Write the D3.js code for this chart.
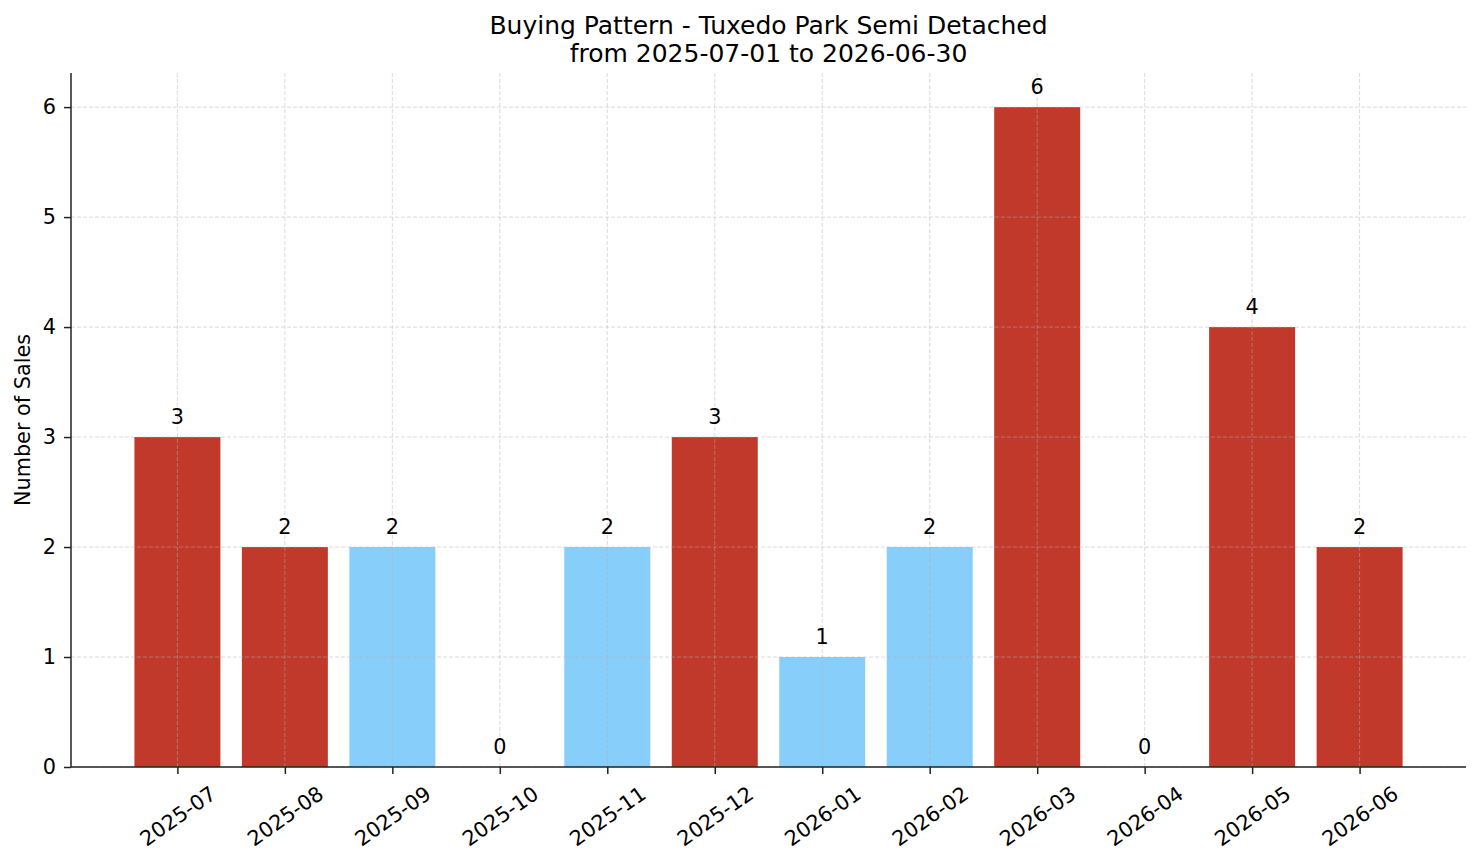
<!DOCTYPE html>
<html>
<head>
<meta charset="utf-8">
<script src="https://cdn.jsdelivr.net/npm/d3@7"></script>
<style>
  body { margin: 0; background: #fff; }
  text { font-family: "DejaVu Sans", sans-serif; fill: #000; }
</style>
</head>
<body>
<svg id="chart" width="1481" height="863"></svg>
<script>
// data
var months = ["2025-07", "2025-08", "2025-09", "2025-10", "2025-11", "2025-12",
  "2026-01", "2026-02", "2026-03", "2026-04", "2026-05", "2026-06"];
var sales = [3, 2, 2, 0, 2, 3, 1, 2, 6, 0, 4, 2];
var highlight = [1, 1, 0, 0, 0, 1, 0, 0, 1, 0, 1, 1]; // 1 = red, 0 = light blue
var yTicks = [0, 1, 2, 3, 4, 5, 6];

var svg = d3.select("#chart");

var margin = { top: 73, right: 15, bottom: 96, left: 71 },
  width = 1481 - margin.left - margin.right,
  height = 863 - margin.top - margin.bottom;

var xScale = d3.scaleLinear().domain([-0.99, 11.99]).range([0, width]);
var yScale = d3.scaleLinear().domain([0, 6.31]).range([height, 0]);
var barW = xScale(0.8) - xScale(0);

var g = svg.append("g")
  .attr("transform", "translate(" + margin.left + "," + margin.top + ")");

// bars
g.selectAll(".bar")
  .data(sales)
  .enter()
  .append("rect")
  .attr("class", "bar")
  .attr("x", function (d, i) { return xScale(i) - barW / 2; })
  .attr("y", function (d) { return yScale(d); })
  .attr("width", barW)
  .attr("height", function (d) { return height - yScale(d); })
  .attr("fill", function (d, i) { return highlight[i] ? "#c0392b" : "#87cefa"; });

// grid (drawn on top, like the reference)
g.selectAll(".hgrid")
  .data(yTicks)
  .enter()
  .append("line")
  .attr("x1", 0)
  .attr("x2", width)
  .attr("y1", function (d) { return yScale(d); })
  .attr("y2", function (d) { return yScale(d); })
  .attr("stroke", "#b0b0b0")
  .attr("stroke-opacity", 0.6)
  .attr("stroke-dasharray", "4,2")
  .attr("stroke-width", 0.8);

g.selectAll(".vgrid")
  .data(months)
  .enter()
  .append("line")
  .attr("x1", function (d, i) { return xScale(i); })
  .attr("x2", function (d, i) { return xScale(i); })
  .attr("y1", 0)
  .attr("y2", height)
  .attr("stroke", "#b0b0b0")
  .attr("stroke-opacity", 0.6)
  .attr("stroke-dasharray", "4,2")
  .attr("stroke-width", 0.8);

// value labels
g.selectAll(".val")
  .data(sales)
  .enter()
  .append("text")
  .attr("x", function (d, i) { return xScale(i); })
  .attr("y", function (d) { return yScale(d) - 13; })
  .attr("text-anchor", "middle")
  .style("font-size", "20.8px")
  .text(function (d) { return d; });

// y axis
var yAxis = d3.axisLeft(yScale).tickValues(yTicks).tickSize(7).tickPadding(8).tickFormat(d3.format("d"));
var ya = g.append("g").call(yAxis);
ya.select(".domain").attr("d", "M0," + height + "V0").attr("stroke", "#222").attr("stroke-width", 1.5);
ya.selectAll(".tick line").attr("stroke", "#222").attr("stroke-width", 1.5);
ya.selectAll(".tick text").style("font-size", "20.8px").attr("fill", "#000").attr("font-family", "DejaVu Sans");

// x axis
var xAxis = d3.axisBottom(xScale).tickValues(d3.range(months.length)).tickSize(7)
  .tickFormat(function (d) { return months[d]; });
var xa = g.append("g").attr("transform", "translate(0," + height + ")").call(xAxis);
xa.select(".domain").attr("d", "M0,0H" + width).attr("stroke", "#222").attr("stroke-width", 1.5);
xa.selectAll(".tick line").attr("stroke", "#222").attr("stroke-width", 1.5);
xa.selectAll(".tick text")
  .style("font-size", "20.8px")
  .attr("fill", "#000")
  .attr("font-family", "DejaVu Sans")
  .attr("y", 0)
  .attr("dy", "0.35em")
  .attr("text-anchor", "middle")
  .attr("transform", "translate(0,49) rotate(-35)");

// y label
svg.append("text")
  .attr("transform", "translate(30," + (margin.top + height / 2) + ") rotate(-90)")
  .attr("text-anchor", "middle")
  .style("font-size", "20.8px")
  .text("Number of Sales");

// title
svg.append("text")
  .attr("x", margin.left + width / 2)
  .attr("y", 34)
  .attr("text-anchor", "middle")
  .style("font-size", "25px")
  .text("Buying Pattern - Tuxedo Park Semi Detached");
svg.append("text")
  .attr("x", margin.left + width / 2)
  .attr("y", 62)
  .attr("text-anchor", "middle")
  .style("font-size", "25px")
  .text("from 2025-07-01 to 2026-06-30");
</script>
</body>
</html>
